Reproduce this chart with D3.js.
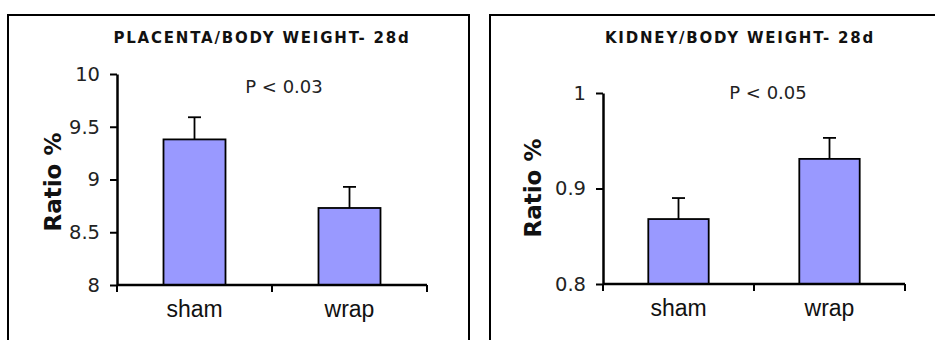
<!DOCTYPE html>
<html>
<head>
<meta charset="utf-8">
<script src="https://cdn.jsdelivr.net/npm/d3@7"></script>
<style>
  body { margin: 0; background: #fff; }
  svg { display: block; font-family: Verdana, "DejaVu Sans", sans-serif; }
</style>
</head>
<body>
<script>
// data
const groups = ['sham', 'wrap'];

const placentaMeans = [9.38, 8.73];
const placentaErr = [0.21, 0.20];
const placentaTicks = [8, 8.5, 9, 9.5, 10];

const kidneyMeans = [0.868, 0.931];
const kidneyErr = [0.022, 0.022];
const kidneyTicks = [0.8, 0.9, 1];

const svg = d3.select('body').append('svg')
  .attr('width', 935)
  .attr('height', 340);

// panel frames (they run off the bottom / right of the picture)
svg.append('rect')
  .attr('x', 8).attr('y', 15)
  .attr('width', 461).attr('height', 400)
  .attr('fill', 'none').attr('stroke', '#000').attr('stroke-width', 2);
svg.append('rect')
  .attr('x', 490).attr('y', 15)
  .attr('width', 500).attr('height', 400)
  .attr('fill', 'none').attr('stroke', '#000').attr('stroke-width', 2);

drawPanel({
  title: 'PLACENTA/BODY WEIGHT- 28d',
  titleX: 262,
  pText: 'P < 0.03',
  pX: 284, pY: 93,
  means: placentaMeans, errs: placentaErr,
  ticks: placentaTicks, domain: [8, 10],
  left: 117, right: 427, top: 74, bottom: 285,
  labelX: 61, labelY: 182
});

drawPanel({
  title: 'KIDNEY/BODY WEIGHT- 28d',
  titleX: 740,
  pText: 'P < 0.05',
  pX: 768, pY: 99,
  means: kidneyMeans, errs: kidneyErr,
  ticks: kidneyTicks, domain: [0.8, 1],
  left: 603, right: 905, top: 93, bottom: 284,
  labelX: 541, labelY: 188
});

function drawPanel(p) {
  const x = d3.scaleBand()
    .domain(groups)
    .range([p.left, p.right])
    .paddingInner(0.6)
    .paddingOuter(0.3);

  // band scale for tick positions (category boundaries)
  const xEdges = d3.scaleBand().domain(groups).range([p.left, p.right]);

  const y = d3.scaleLinear()
    .domain(p.domain)
    .range([p.bottom, p.top]);

  const g = svg.append('g');

  // title
  g.append('text')
    .attr('x', p.titleX).attr('y', 43)
    .attr('text-anchor', 'middle')
    .attr('font-size', 15)
    .attr('font-weight', 'bold')
    .attr('letter-spacing', 1.8)
    .attr('fill', '#111')
    .text(p.title);

  g.append('text')
    .attr('x', p.pX).attr('y', p.pY)
    .attr('text-anchor', 'middle')
    .attr('font-size', 18)
    .attr('fill', '#222')
    .text(p.pText);

  // y label
  g.append('text')
    .attr('transform', `translate(${p.labelX}, ${p.labelY}) rotate(-90)`)
    .attr('text-anchor', 'middle')
    .attr('font-size', 23)
    .attr('font-weight', 'bold')
    .attr('fill', '#111')
    .text('Ratio %');

  // bars
  g.selectAll('rect.bar')
    .data(p.means)
    .join('rect')
    .attr('class', 'bar')
    .attr('x', (d, i) => x(groups[i]))
    .attr('y', d => y(d))
    .attr('width', x.bandwidth())
    .attr('height', d => y(p.domain[0]) - y(d))
    .attr('fill', '#9999FF')
    .attr('stroke', '#000')
    .attr('stroke-width', 1.8);

  // error bars (upper only)
  const cx = i => x(groups[i]) + x.bandwidth() / 2;
  g.selectAll('line.err')
    .data(p.means)
    .join('line')
    .attr('class', 'err')
    .attr('x1', (d, i) => cx(i)).attr('x2', (d, i) => cx(i))
    .attr('y1', d => y(d)).attr('y2', (d, i) => y(d + p.errs[i]))
    .attr('stroke', '#000').attr('stroke-width', 1.8);
  g.selectAll('line.cap')
    .data(p.means)
    .join('line')
    .attr('class', 'cap')
    .attr('x1', (d, i) => cx(i) - 6.5).attr('x2', (d, i) => cx(i) + 6.5)
    .attr('y1', (d, i) => y(d + p.errs[i])).attr('y2', (d, i) => y(d + p.errs[i]))
    .attr('stroke', '#000').attr('stroke-width', 1.8);

  // y axis
  const yAxis = g.append('g')
    .attr('transform', `translate(${p.left},0)`)
    .call(d3.axisLeft(y).tickValues(p.ticks).tickSize(7).tickPadding(10)
      .tickSizeOuter(0).tickFormat(d3.format('')));
  yAxis.select('.domain').attr('stroke-width', 2.5);
  yAxis.selectAll('.tick line').attr('stroke-width', 2);
  yAxis.selectAll('.tick text')
    .attr('font-size', 19.5)
    .attr('font-family', 'Verdana, "DejaVu Sans", sans-serif')
    .attr('fill', '#222');

  // x axis: line with ticks at the category edges
  const xAxis = g.append('g')
    .attr('transform', `translate(0,${p.bottom})`);
  xAxis.append('line')
    .attr('x1', p.left).attr('x2', p.right)
    .attr('stroke', '#000').attr('stroke-width', 2.5);
  const edges = [p.left, xEdges(groups[1]), p.right];
  xAxis.selectAll('line.tick')
    .data(edges)
    .join('line')
    .attr('class', 'tick')
    .attr('x1', d => d).attr('x2', d => d)
    .attr('y1', 0).attr('y2', 7)
    .attr('stroke', '#000').attr('stroke-width', 2);
  xAxis.selectAll('text')
    .data(groups)
    .join('text')
    .attr('x', d => xEdges(d) + xEdges.bandwidth() / 2)
    .attr('y', 32)
    .attr('text-anchor', 'middle')
    .attr('font-family', '"Liberation Sans", Arial, sans-serif')
    .attr('font-size', 23)
    .attr('fill', '#111')
    .text(d => d);
}
</script>
</body>
</html>
